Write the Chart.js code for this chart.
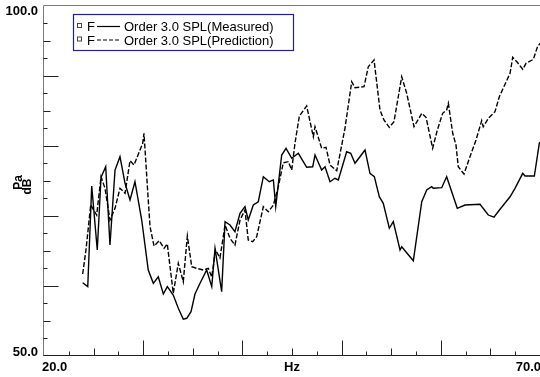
<!DOCTYPE html>
<html>
<head>
<meta charset="utf-8">
<script src="https://cdn.jsdelivr.net/npm/chart.js@4.4.1/dist/chart.umd.min.js"></script>
<style>
  html, body { margin: 0; padding: 0; background: #fff; }
  #wrap { width: 540px; height: 377px; }
</style>
</head>
<body>
<div id="wrap"><canvas id="orderChart" width="540" height="377"></canvas></div>
<script>
// order 3.0 SPL
const measuredHz = [23.90, 24.41, 24.81, 25.37, 25.75, 26.22, 26.65, 27.16, 27.66, 28.17, 28.67, 29.17, 29.85,
  30.51, 31.02, 31.52, 32.03, 32.43, 33.03, 33.54, 34.04, 34.39, 34.82, 35.22, 35.73, 36.40, 36.91, 37.24, 37.91,
  38.25, 38.75, 39.25, 39.76, 40.26, 40.59, 41.10, 41.60, 42.11, 42.71, 43.12, 43.36, 43.96, 44.40, 44.97, 45.64,
  46.48, 47.09, 47.32, 47.99, 48.33, 48.83, 49.33, 49.67, 50.51, 50.92, 51.35, 51.85, 52.36, 52.86, 53.30, 53.80,
  54.20, 54.81, 55.21, 55.89, 56.06, 57.23, 58.08, 58.58, 59.08, 59.24, 60.09, 60.59, 61.10, 61.66, 62.44, 63.95,
  64.79, 65.36, 65.97, 66.98, 67.48, 68.26, 68.49, 69.43, 69.93, 70.00];
const measuredDb = [60.46, 59.89, 74.25, 65.12, 75.49, 77.00, 65.83, 76.53, 78.43, 74.64, 72.25, 74.86, 69.40,
  62.27, 60.37, 61.31, 58.84, 59.89, 58.70, 56.80, 55.24, 55.38, 56.32, 58.84, 60.37, 62.27, 59.89, 65.36, 59.17,
  69.16, 68.69, 67.73, 70.36, 71.30, 69.40, 71.54, 72.01, 75.58, 74.86, 75.11, 71.30, 78.67, 79.63, 78.20, 78.92,
  76.92, 77.00, 78.67, 76.53, 77.00, 74.86, 75.35, 75.11, 79.14, 78.92, 77.49, 78.43, 79.39, 76.06, 75.58, 72.72,
  71.78, 68.22, 69.16, 65.12, 65.59, 63.59, 72.01, 73.68, 74.15, 73.92, 74.01, 75.58, 73.44, 71.07, 71.54, 71.64,
  70.11, 69.79, 70.93, 72.72, 73.92, 76.06, 75.68, 75.68, 80.34, 80.53];

const predictionHz = [23.90, 24.23, 24.71, 25.31, 25.75, 26.15, 26.65, 27.16, 27.66, 28.17, 28.67, 29.07, 29.95,
  30.08, 30.51, 30.69, 31.09, 31.62, 32.10, 32.43, 33.03, 33.54, 34.04, 34.45, 34.89, 35.39, 36.06, 36.56, 36.91,
  37.29, 37.74, 38.25, 38.75, 39.25, 39.76, 40.26, 40.59, 41.04, 41.44, 42.11, 42.61, 43.12, 43.62, 44.12, 44.63,
  44.97, 45.30, 45.74, 46.48, 47.15, 47.32, 47.99, 48.43, 48.83, 49.51, 50.34, 51.02, 51.35, 52.26, 52.69, 53.27,
  53.87, 54.27, 54.81, 55.28, 56.06, 56.56, 57.30, 58.08, 58.51, 59.18, 59.65, 60.19, 60.59, 60.76, 61.20, 61.53,
  61.76, 62.34, 62.94, 63.55, 64.12, 64.28, 64.79, 65.46, 65.90, 66.98, 67.25, 67.71, 68.26, 68.59, 69.33, 69.73,
  70.00];
const predictionDb = [61.70, 65.12, 71.54, 70.11, 75.58, 73.92, 69.40, 71.07, 73.92, 73.21, 77.86, 77.25, 80.34,
  81.77, 72.25, 68.45, 65.69, 66.45, 65.36, 65.98, 58.94, 63.22, 60.60, 67.12, 62.74, 62.51, 62.27, 62.51, 61.27,
  65.12, 63.98, 68.69, 66.79, 65.83, 69.40, 70.83, 66.55, 66.31, 67.02, 71.30, 70.58, 71.54, 74.15, 77.57, 77.72,
  76.53, 80.34, 84.24, 85.66, 81.28, 82.71, 79.63, 79.77, 77.25, 76.43, 82.48, 89.13, 88.27, 88.42, 91.27, 92.23,
  85.09, 83.67, 82.62, 83.42, 89.84, 87.48, 82.71, 84.62, 84.05, 79.63, 82.24, 84.62, 85.09, 86.05, 81.77, 80.10,
  77.00, 75.96, 78.43, 80.81, 83.57, 82.71, 83.91, 84.85, 86.99, 90.33, 92.61, 91.90, 90.90, 91.75, 92.32, 94.04,
  94.61];

const xTicks = [22.5, 25, 27.5, 30, 32.5, 35, 37.5, 40, 42.5, 45, 47.5, 50, 52.5, 55, 57.5, 60, 62.5, 65, 67.5];
const yTicks = [52.5, 55, 57.5, 60, 62.5, 65, 67.5, 70, 72.5, 75, 77.5, 80, 82.5, 85, 87.5, 90, 92.5, 95, 97.5];
const xTickLabels = ['20.0', '70.0'];
const yTickLabels = ['50.0', '100.0'];
const xTitle = 'Hz';
const yTitle = ['Pa', 'dB'];
const legendLabels = ['Order 3.0 SPL(Measured)', 'Order 3.0 SPL(Prediction)'];

const FONT = "'Liberation Sans', Arial, Helvetica, sans-serif";
const predDash = [5, 2];

function toPoints(xs, ys) {
    return xs.map((x, i) => ({ x: x, y: ys[i] }));
}

function tickLen(v) {
    if (v % 10 === 0) return 15;
    if (v % 5 === 0) return 7;
    return 4;
}

const framePlugin = {
    id: 'frame',
    afterDraw(chart) {
        const ctx = chart.ctx;
        const xs = chart.scales.x;
        const ys = chart.scales.y;
        const a = chart.chartArea;
        ctx.save();

        // frame lines
        ctx.lineWidth = 1;
        ctx.strokeStyle = '#7a7a7a';
        ctx.beginPath();
        ctx.moveTo(43.5, 356);
        ctx.lineTo(43.5, 5.5);
        ctx.lineTo(a.right, 5.5);
        ctx.stroke();
        ctx.strokeStyle = '#222';
        ctx.beginPath();
        ctx.moveTo(43.5, 355.5);
        ctx.lineTo(a.right, 355.5);
        ctx.stroke();

        // inward ticks
        ctx.strokeStyle = '#222';
        ctx.beginPath();
        xTicks.forEach(v => {
            const px = Math.round(xs.getPixelForValue(v)) + 0.5;
            ctx.moveTo(px, 355.5);
            ctx.lineTo(px, 355.5 - tickLen(v));
        });
        yTicks.forEach(v => {
            const py = Math.round(ys.getPixelForValue(v)) + 0.5;
            ctx.moveTo(43.5, py);
            ctx.lineTo(43.5 + tickLen(v), py);
        });
        ctx.stroke();

        // tick labels
        ctx.fillStyle = '#000';
        ctx.font = 'bold 13px ' + FONT;
        ctx.textBaseline = 'alphabetic';
        ctx.textAlign = 'right';
        ctx.fillText(yTickLabels[0], 38, 356);
        ctx.fillText(yTickLabels[1], 38, 15);
        ctx.textAlign = 'left';
        ctx.fillText(xTickLabels[0], 42, 371);
        ctx.textAlign = 'right';
        ctx.fillText(xTickLabels[1], 541, 371);
        ctx.textAlign = 'center';
        ctx.fillText(xTitle, xs.getPixelForValue(45), 371);

        // rotated unit label
        ctx.font = 'bold 12px ' + FONT;
        ctx.save();
        ctx.translate(22, 182.5);
        ctx.rotate(-Math.PI / 2);
        ctx.fillText(yTitle[0], 0, 0);
        ctx.restore();
        ctx.save();
        ctx.translate(31, 186.5);
        ctx.rotate(-Math.PI / 2);
        ctx.fillText(yTitle[1], 0, 0);
        ctx.restore();

        // legend box
        ctx.strokeStyle = '#24247a';
        ctx.lineWidth = 1.2;
        ctx.strokeRect(73.5, 14.5, 220, 36);
        ctx.font = '13px ' + FONT;
        ctx.textAlign = 'left';
        const rows = [31, 44.5];
        rows.forEach((base, i) => {
            ctx.lineWidth = 1;
            ctx.strokeStyle = '#444';
            ctx.strokeRect(77.5, base - 7.5, 4, 4);
            ctx.fillStyle = '#000';
            ctx.fillText('F', 87, base);
            ctx.strokeStyle = '#000';
            ctx.lineWidth = 1.2;
            ctx.setLineDash(i === 1 ? [4, 2] : []);
            ctx.beginPath();
            ctx.moveTo(97, base - 4.5);
            ctx.lineTo(120, base - 4.5);
            ctx.stroke();
            ctx.setLineDash([]);
            ctx.fillText(legendLabels[i], 124, base);
        });

        ctx.restore();
    }
};

new Chart(document.getElementById('orderChart'), {
    type: 'line',
    data: {
        datasets: [
            {
                label: legendLabels[0],
                data: toPoints(measuredHz, measuredDb),
                borderColor: '#000',
                borderWidth: 1.4,
                pointRadius: 0,
                tension: 0,
                fill: false
            },
            {
                label: legendLabels[1],
                data: toPoints(predictionHz, predictionDb),
                borderColor: '#000',
                borderWidth: 1.4,
                borderDash: predDash,
                pointRadius: 0,
                tension: 0,
                fill: false
            }
        ]
    },
    options: {
        responsive: false,
        animation: false,
        events: [],
        layout: { padding: { left: 44, top: 5.5, right: 0, bottom: 21 } },
        plugins: { legend: { display: false }, tooltip: { enabled: false } },
        scales: {
            x: { type: 'linear', min: 20, max: 70, display: false },
            y: { type: 'linear', min: 50, max: 100, display: false }
        }
    },
    plugins: [framePlugin]
});
</script>
</body>
</html>
